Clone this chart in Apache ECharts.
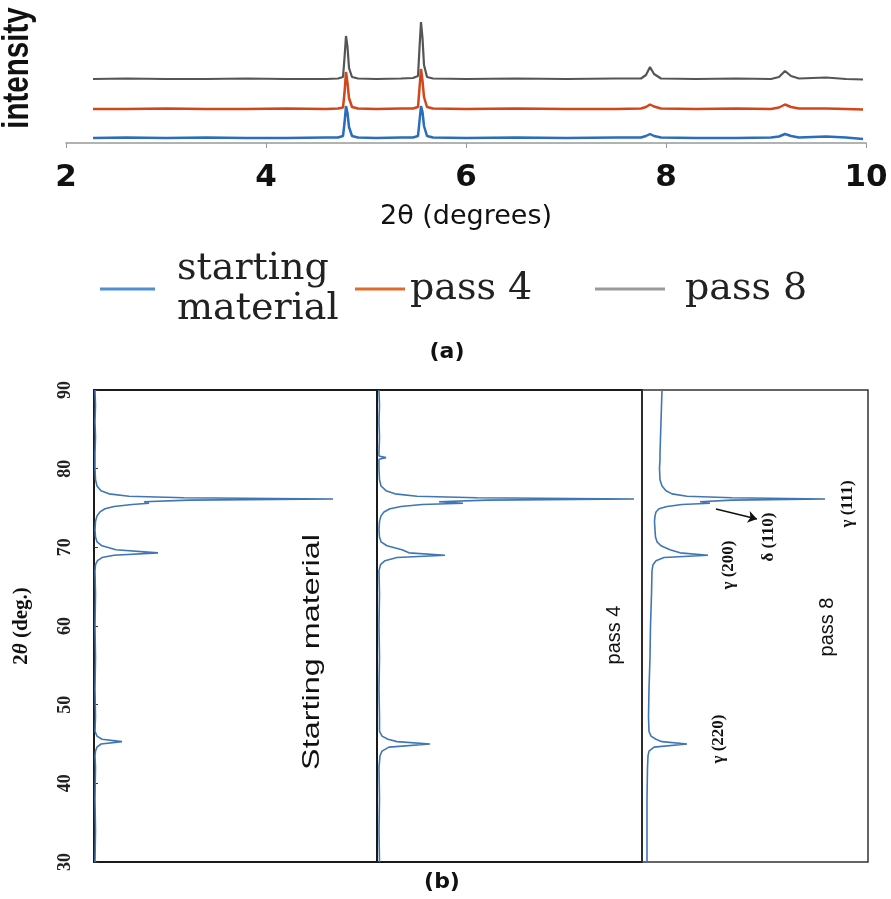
<!DOCTYPE html>
<html>
<head>
<meta charset="utf-8">
<title>XRD patterns</title>
<script src="https://cdn.jsdelivr.net/npm/echarts/dist/echarts.min.js"></script>
<style>
  html, body { margin: 0; padding: 0; background: #fff; }
  #chart { width: 891px; height: 899px; }
</style>
</head>
<body>
<div id="chart"></div>
<script>
// panel (a): 2theta positions shared by the three offset traces
var aTheta = [2.27, 2.6, 3.0, 3.4, 3.8, 4.2, 4.6, 4.72, 4.77, 4.785, 4.8, 4.815, 4.83, 4.86, 4.92,
  5.1, 5.35, 5.47, 5.52, 5.535, 5.55, 5.565, 5.58, 5.61, 5.67,
  6.0, 6.5, 7.0, 7.5, 7.75, 7.8, 7.84, 7.88, 7.95, 8.3, 8.7, 9.05, 9.13, 9.19, 9.25, 9.33, 9.6, 9.8, 9.97];
var startA = [5, 5.5, 5, 5.5, 5, 5, 5.5, 5.5, 7, 20, 37, 30, 16, 7, 5.5,
  5, 5.5, 5.5, 7, 22, 37, 31, 17, 7, 5.5,
  5, 5.5, 5, 5.5, 5.5, 7, 9, 7, 5.5, 5, 5, 5.5, 6.5, 9, 7, 5.5, 6.5, 5.5, 4];
var pass4A = [34, 34, 34.5, 34, 34, 34.5, 34, 34.5, 35.5, 50, 71, 60, 45, 36, 34.5,
  34, 34.5, 34.5, 36, 55, 74, 62, 46, 36, 34.5,
  34, 34.5, 34, 34, 34.5, 36, 38.5, 36.5, 34.5, 34, 34.5, 34, 35.5, 38.5, 36, 34.5, 34.5, 34, 33.5];
var pass8A = [64, 64.5, 64, 64, 64.5, 64, 64, 64.5, 66, 85, 107, 96, 75, 66, 64.5,
  64, 64.5, 65, 67, 95, 121, 105, 78, 66, 64.5,
  64, 64.5, 64, 64.5, 64.5, 68, 76, 69, 64.5, 64, 64.5, 64, 66, 72, 67, 64.5, 65.5, 64, 63.5];
var aTicks = [2, 4, 6, 8, 10];

// panel (b): 2theta on the vertical axis, intensity to the right
var bTheta = [90, 88, 86, 84, 82, 81.6, 81.4, 81.2, 80, 78.6, 77.8, 77.2, 76.8, 76.5, 76.3, 76.15, 76.0,
  75.8, 75.6, 75.45, 75.2, 74.9, 74.5, 74.0, 73.3, 72.2, 71.3, 70.7, 70.2, 69.7, 69.3, 69.0,
  68.7, 68.3, 67.8, 67.0, 64, 60, 56, 52, 48.5, 46.6, 46.0, 45.6, 45.3, 45.0, 44.6, 44.1,
  43.5, 42, 38, 34, 30];
var startB = [1, 1.5, 1, 1.5, 1, 1, 1.5, 1, 1, 1.5, 3, 7, 15, 35, 90, 239, 95,
  50, 55, 38, 20, 11, 6, 3, 1.5, 1, 1.5, 3, 8, 22, 64, 20,
  8, 3.5, 1.5, 1, 1.5, 1, 1.5, 1, 1.5, 1, 3, 8, 28, 7, 3, 1.5,
  1, 1.5, 1, 1.5, 1];
var pass4B = [2, 2.5, 2, 2.5, 2, 2, 9, 2, 2, 2.5, 4, 9, 18, 40, 100, 257, 110,
  62, 86, 45, 24, 13, 7, 4, 2.5, 2, 2.5, 4, 10, 25, 32, 68,
  20, 8, 3.5, 2, 2.5, 2, 2.5, 2, 2.5, 2.5, 5, 11, 20, 53, 12, 5,
  3, 2, 2.5, 2, 2.5];
var pass8B = [20, 19.5, 19, 18.5, 18, 18, 18.5, 18, 17.5, 18, 20, 24, 30, 45, 90, 183, 90,
  58, 68, 40, 25, 17, 14, 13, 12.5, 13, 13.5, 15, 19, 28, 38, 66,
  22, 14, 11, 10, 9.5, 8.5, 8, 7, 6.5, 7, 9, 14, 20, 45, 12, 7,
  6, 5.5, 5, 5, 5];
var bTicks = [30, 40, 50, 60, 70, 80, 90];

function pairsA(vals) {
  return aTheta.map(function (t, i) { return [t, vals[i]]; });
}
function pairsB(vals) {
  return bTheta.map(function (t, i) { return [vals[i], t]; });
}

var myChart = echarts.init(document.getElementById('chart'));

function centered(st) {
  return Object.assign({ align: 'center', verticalAlign: 'middle',
    textAlign: 'center', textVerticalAlign: 'middle', fill: '#111' }, st);
}
// rotated (bottom-to-top) text
function vText(txt, x, y, st, sx) {
  return { type: 'text', x: x, y: y, rotation: Math.PI / 2, scaleX: sx || 1, silent: true,
    style: Object.assign({ text: txt }, st) };
}
var serifLabel = centered({ fontFamily: 'Liberation Serif', fontWeight: 'bold', fontSize: 17 });
var sansLabel = centered({ fontFamily: 'Liberation Sans', fontSize: 20 });
var tagLabel = centered({ fontFamily: 'DejaVu Sans', fontWeight: 'bold', fontSize: 22 });

var bAxis = { type: 'value', min: 0, show: false };
var bYAxis = {
  type: 'value', min: bTicks[0], max: bTicks[bTicks.length - 1], interval: 10,
  axisLine: { show: false }, splitLine: { show: false },
  axisTick: { show: true, inside: true, length: 4, lineStyle: { color: '#333' } },
  axisLabel: { show: false }
};
var traceStyle = { color: '#3f76b4', width: 1.6 };
var legendText = { fontFamily: 'DejaVu Serif', fontSize: 38, color: '#222', lineHeight: 40 };

var option = {
  animation: false,
  legend: [
    { data: [{ name: 'starting material', itemStyle: { color: '#4f8fd6' } }], left: 95, top: 217,
      icon: 'rect', itemWidth: 55, itemHeight: 3, selectedMode: false,
      formatter: function () { return 'starting\nmaterial'; },
      textStyle: Object.assign({ padding: [54, 0, 0, 17] }, legendText) },
    { data: [{ name: 'pass 4', itemStyle: { color: '#e06a2a' } }], left: 350, top: 264,
      icon: 'rect', itemWidth: 50, itemHeight: 3, selectedMode: false,
      textStyle: Object.assign({ padding: [0, 0, 0, 0] }, legendText) },
    { data: [{ name: 'pass 8', itemStyle: { color: '#9a9a9a' } }], left: 590, top: 264,
      icon: 'rect', itemWidth: 70, itemHeight: 3, selectedMode: false,
      textStyle: Object.assign({ padding: [0, 0, 0, 15] }, legendText) }
  ],
  grid: [
    { left: 66, top: 3, width: 800, height: 140 },
    { left: 94, top: 390, width: 283, height: 472, show: true, borderColor: '#1a1a1a', borderWidth: 2 },
    { left: 377, top: 390, width: 265, height: 472, show: true, borderColor: '#1a1a1a', borderWidth: 2 },
    { left: 642, top: 390, width: 226, height: 472, show: true, borderColor: '#333', borderWidth: 1.5 }
  ],
  xAxis: [
    {
      gridIndex: 0, type: 'value', min: aTicks[0], max: aTicks[aTicks.length - 1], interval: 2,
      name: '2θ (degrees)', nameLocation: 'middle', nameGap: 60,
      nameTextStyle: { fontFamily: 'DejaVu Sans', fontSize: 27, color: '#111' },
      axisLine: { lineStyle: { color: '#999', width: 1.5 } },
      axisTick: { show: true, length: 5, lineStyle: { color: '#999' } },
      axisLabel: { fontFamily: 'DejaVu Sans', fontWeight: 'bold', fontSize: 31, color: '#111', margin: 19 },
      splitLine: { show: false }
    },
    Object.assign({ gridIndex: 1, max: 283 }, bAxis),
    Object.assign({ gridIndex: 2, max: 265 }, bAxis),
    Object.assign({ gridIndex: 3, max: 226 }, bAxis)
  ],
  yAxis: [
    {
      gridIndex: 0, type: 'value', min: 0, max: 140,
      axisLine: { show: false }, axisTick: { show: false }, axisLabel: { show: false },
      splitLine: { show: false }
    },
    Object.assign({}, bYAxis, {
      gridIndex: 1,
      name: '2{it|θ} (deg.)', nameLocation: 'middle', nameGap: 62, nameRotate: 90,
      nameTextStyle: { fontFamily: 'Liberation Serif', fontWeight: 'bold', fontSize: 21, color: '#111',
        rich: { it: { fontFamily: 'Liberation Serif', fontWeight: 'bold', fontStyle: 'italic', fontSize: 21 } } },
      axisLabel: { show: true, rotate: 90, fontFamily: 'Liberation Serif', fontWeight: 'bold',
        fontSize: 18, color: '#222', margin: 20 }
    }),
    Object.assign({}, bYAxis, { gridIndex: 2, axisTick: { show: false } }),
    Object.assign({}, bYAxis, { gridIndex: 3, axisTick: { show: false } })
  ],
  series: [
    { name: 'starting material', type: 'line', xAxisIndex: 0, yAxisIndex: 0, showSymbol: false,
      lineStyle: { color: '#2a6ebb', width: 2.5 }, itemStyle: { color: '#2a6ebb' }, data: pairsA(startA) },
    { name: 'pass 4', type: 'line', xAxisIndex: 0, yAxisIndex: 0, showSymbol: false,
      lineStyle: { color: '#d2461a', width: 2.5 }, itemStyle: { color: '#d2461a' }, data: pairsA(pass4A) },
    { name: 'pass 8', type: 'line', xAxisIndex: 0, yAxisIndex: 0, showSymbol: false,
      lineStyle: { color: '#555', width: 2.2 }, itemStyle: { color: '#555' }, data: pairsA(pass8A) },

    { name: 'b-start', type: 'line', xAxisIndex: 1, yAxisIndex: 1, showSymbol: false,
      lineStyle: traceStyle, data: pairsB(startB) },
    { name: 'b-pass4', type: 'line', xAxisIndex: 2, yAxisIndex: 2, showSymbol: false,
      lineStyle: traceStyle, data: pairsB(pass4B) },
    { name: 'b-pass8', type: 'line', xAxisIndex: 3, yAxisIndex: 3, showSymbol: false,
      lineStyle: traceStyle, data: pairsB(pass8B),
      markLine: {
        silent: true, symbol: ['none', 'arrow'], symbolSize: 9,
        lineStyle: { color: '#111', width: 1.6, type: 'solid' }, label: { show: false },
        data: [[{ coord: [74, 74.87] }, { coord: [115, 73.6] }]]
      } }
  ],
  graphic: [
    vText('intensity', 18, 68, centered({ fontFamily: 'Liberation Sans', fontWeight: 'bold', fontSize: 36 }), 0.82),
    { type: 'text', x: 447, y: 352, silent: true, style: Object.assign({ text: '(a)' }, tagLabel) },
    { type: 'text', x: 442, y: 882, silent: true, style: Object.assign({ text: '(b)' }, tagLabel) },
    vText('Starting material', 312, 652, centered({ fontFamily: 'Liberation Sans', fontSize: 24 }), 1.35),
    vText('pass 4', 614, 635, sansLabel),
    vText('pass 8', 827, 627, sansLabel),
    vText('γ (111)', 848, 504, serifLabel),
    vText('δ (110)', 769, 537, serifLabel),
    vText('γ (200)', 729, 565, serifLabel),
    vText('γ (220)', 719, 739, serifLabel)
  ]
};
myChart.setOption(option);
</script>
</body>
</html>
